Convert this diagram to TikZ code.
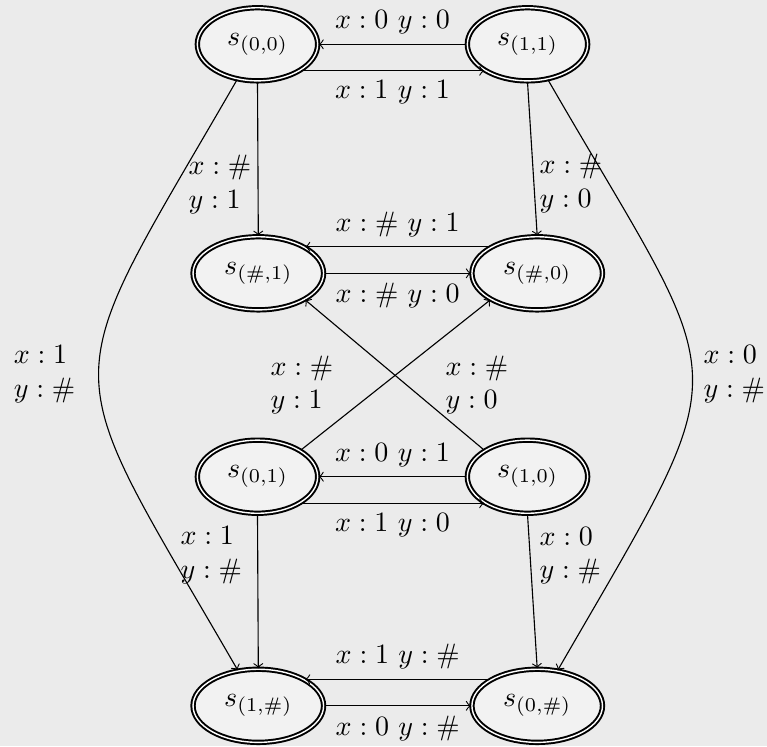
\documentclass[tikz,border=0pt]{standalone}
\usetikzlibrary{shapes.geometric}
\definecolor{bgc}{RGB}{235,235,235}
\definecolor{nodefill}{RGB}{242,242,242}
\begin{document}
\begin{tikzpicture}[x=0.35714pt,y=0.35714pt,
  state/.style={ellipse, draw, line width=0.7pt, double, double distance=0.5pt,
    fill=nodefill, inner xsep=4.3pt, inner ysep=5.3pt},
  edge/.style={->, line width=0.4pt},
  lab/.style={align=left, anchor=west, inner sep=0pt}]
\fill[bgc] (0,0) rectangle (767,-746);
\useasboundingbox (0,0) rectangle (767,-746);

\node[state] (A) at (257.5,-44.3) {$s_{(0,0)}$};
\node[state] (B) at (527.5,-44.3) {$s_{(1,1)}$};
\node[state] (C) at (258.3,-273.3) {$s_{(\#,1)}$};
\node[state] (D) at (537.2,-273.3) {$s_{(\#,0)}$};
\node[state] (E) at (257.5,-476.7) {$s_{(0,1)}$};
\node[state] (F) at (527.5,-476.7) {$s_{(1,0)}$};
\node[state] (G) at (258.3,-705.8) {$s_{(1,\#)}$};
\node[state] (H) at (537.2,-705.8) {$s_{(0,\#)}$};

% horizontal pairs
\draw[edge] (B.west) -- node[above] {$x:0$ $y:0$} (A.east);
\draw[edge] (A.south east) -- node[below] {$x:1$ $y:1$} (B.south west);
\draw[edge] (D.north west) -- node[above] {$x:\#$ $y:1$} (C.north east);
\draw[edge] (C.east) -- node[below] {$x:\#$ $y:0$} (D.west);
\draw[edge] (F.west) -- node[above] {$x:0$ $y:1$} (E.east);
\draw[edge] (E.south east) -- node[below] {$x:1$ $y:0$} (F.south west);
\draw[edge] (H.north west) -- node[above] {$x:1$ $y:\#$} (G.north east);
\draw[edge] (G.east) -- node[below] {$x:0$ $y:\#$} (H.west);

% vertical
\draw[edge] (A.south) -- (C.north);
\draw[edge] (B.south) -- (D.north);
\draw[edge] (E.south) -- (G.north);
\draw[edge] (F.south) -- (H.north);

% crossing
\draw[edge] (F.north west) -- (C.south east);
\draw[edge] (E.north east) -- (D.south west);

% long curves
\draw[edge] (A.240) .. controls +(240:370) and +(120:370) .. (G.120);
\draw[edge] (B.300) .. controls +(300:372) and +(60:372) .. (H.60);

% labels
\node[lab] (lAC) at (188,-184.2) {$x:\#$\\$y:1$};
\node[lab] (lBD) at (539,-183.4) {$x:\#$\\$y:0$};
\node[lab] (lEG) at (180,-555) {$x:1$\\$y:\#$};
\node[lab] (lFH) at (539,-555.8) {$x:0$\\$y:\#$};
\node[lab] (lL) at (13.3,-374.2) {$x:1$\\$y:\#$};
\node[lab] (lR) at (703,-374.2) {$x:0$\\$y:\#$};
\node[lab] (lX1) at (270,-385) {$x:\#$\\$y:1$};
\node[lab] (lX2) at (445,-385) {$x:\#$\\$y:0$};
\end{tikzpicture}
\end{document}
